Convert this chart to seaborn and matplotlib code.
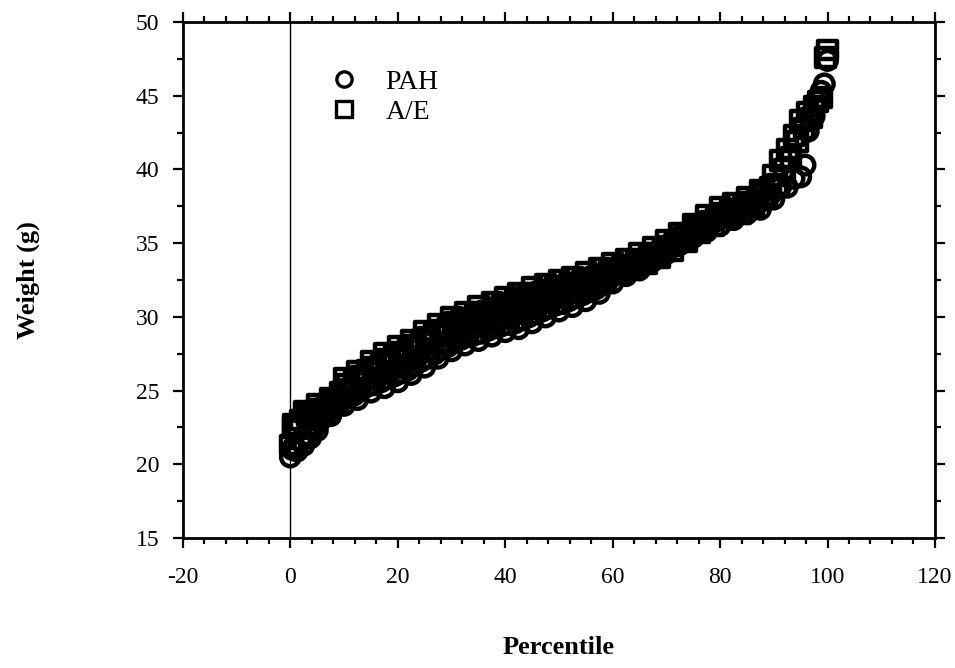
import matplotlib
matplotlib.use('Agg')
import matplotlib.pyplot as plt
import seaborn as sns
from matplotlib.ticker import MultipleLocator
from matplotlib.lines import Line2D

# percentile / weight (g)
ae_pct = [0.0, 0.6, 1.25, 2.5, 3.75, 5.0, 6.25, 7.5, 8.75, 10.0,
          11.25, 12.5, 13.75, 15.0, 16.25, 17.5, 18.75, 20.0, 21.25, 22.5,
          23.75, 25.0, 26.25, 27.5, 28.75, 30.0, 31.25, 32.5, 33.75, 35.0,
          36.25, 37.5, 38.75, 40.0, 41.25, 42.5, 43.75, 45.0, 46.25, 47.5,
          48.75, 50.0, 51.25, 52.5, 53.75, 55.0, 56.25, 57.5, 58.75, 60.0,
          61.25, 62.5, 63.75, 65.0, 66.25, 67.5, 68.75, 70.0, 71.25, 72.5,
          73.75, 75.0, 76.25, 77.5, 78.75, 80.0, 81.25, 82.5, 83.75, 85.0,
          86.25, 87.5, 88.75, 90.0, 90.6, 91.25, 92.0, 92.5, 93.2, 93.75,
          94.4, 95.0, 95.6, 96.25, 97.0, 97.5, 98.2, 99.0, 99.6, 100.0]
ae_wt = [21.3, 22.7, 22.4, 23.6, 23.1, 24.1, 23.4, 24.5, 24.1, 25.8,
         25.1, 26.3, 25.8, 27.0, 26.3, 27.5, 26.8, 28.0, 27.3, 28.4,
         27.9, 29.0, 28.3, 29.5, 28.8, 30.0, 29.2, 30.3, 29.6, 30.7,
         29.9, 31.0, 30.3, 31.3, 30.6, 31.6, 30.9, 32.0, 31.2, 32.2,
         31.5, 32.5, 31.7, 32.7, 31.9, 33.0, 32.2, 33.3, 32.6, 33.6,
         32.9, 33.9, 33.2, 34.3, 33.6, 34.7, 34.0, 35.2, 34.5, 35.7,
         35.1, 36.3, 35.7, 36.9, 36.2, 37.4, 36.7, 37.7, 37.0, 38.1,
         37.5, 38.6, 38.0, 39.6, 39.0, 40.6, 40.0, 41.4, 40.8, 42.3,
         41.9, 43.3, 42.8, 43.9, 43.5, 44.3, 44.6, 44.9, 47.6, 48.1]
# A/E readings lying inside the band
ae_pct_mid = [0.625, 1.875, 3.125, 4.375, 5.625, 6.875, 8.125, 9.375, 10.625, 11.875,
              13.125, 14.375, 15.625, 16.875, 18.125, 19.375, 20.625, 21.875, 23.125, 24.375,
              25.625, 26.875, 28.125, 29.375, 30.625, 31.875, 33.125, 34.375, 35.625, 36.875,
              38.125, 39.375, 40.625, 41.875, 43.125, 44.375, 45.625, 46.875, 48.125, 49.375,
              50.625, 51.875, 53.125, 54.375, 55.625, 56.875, 58.125, 59.375, 60.625, 61.875,
              63.125, 64.375, 65.625, 66.875, 68.125, 69.375, 70.625, 71.875, 73.125, 74.375,
              75.625, 76.875, 78.125, 79.375, 80.625, 81.875, 83.125, 84.375, 85.625, 86.875,
              88.125, 89.375]
ae_wt_mid = [22.5, 23.0, 23.3, 23.6, 23.7, 23.9, 24.3, 24.9, 25.4, 25.7,
             26.0, 26.4, 26.6, 26.9, 27.1, 27.4, 27.6, 27.8, 28.1, 28.4,
             28.6, 28.9, 29.1, 29.4, 29.6, 29.7, 29.9, 30.1, 30.3, 30.4,
             30.6, 30.8, 30.9, 31.1, 31.2, 31.4, 31.6, 31.7, 31.8, 32.0,
             32.1, 32.2, 32.3, 32.4, 32.6, 32.7, 32.9, 33.1, 33.2, 33.4,
             33.5, 33.7, 33.9, 34.1, 34.3, 34.6, 34.8, 35.1, 35.4, 35.7,
             36.0, 36.3, 36.5, 36.8, 37.0, 37.2, 37.3, 37.5, 37.8, 38.0,
             38.3, 38.8]

pah_pct = [0.0, 0.4, 1.25, 2.0, 2.5, 3.75, 4.4, 5.0, 6.25, 7.5,
           8.75, 10.0, 11.25, 12.5, 13.75, 15.0, 16.25, 17.5, 18.75, 20.0,
           21.25, 22.5, 23.75, 25.0, 26.25, 27.5, 28.75, 30.0, 31.25, 32.5,
           33.75, 35.0, 36.25, 37.5, 38.75, 40.0, 41.25, 42.5, 43.75, 45.0,
           46.25, 47.5, 48.75, 50.0, 51.25, 52.5, 53.75, 55.0, 56.25, 57.5,
           58.75, 60.0, 61.25, 62.5, 63.75, 65.0, 66.25, 67.5, 68.75, 70.0,
           71.25, 72.5, 73.75, 75.0, 76.25, 77.5, 78.75, 80.0, 81.25, 82.5,
           83.75, 85.0, 86.25, 87.5, 88.75, 90.0, 91.25, 92.5, 93.75, 95.0,
           95.8, 96.4, 97.5, 98.8, 99.4, 100.0]
pah_wt = [20.5, 21.0, 20.9, 21.6, 21.3, 21.8, 22.7, 22.3, 23.6, 23.3,
          24.4, 24.0, 25.0, 24.4, 25.6, 24.9, 25.9, 25.2, 26.3, 25.6,
          26.7, 26.1, 27.3, 26.6, 27.8, 27.2, 28.3, 27.7, 28.8, 28.1,
          29.2, 28.4, 29.4, 28.7, 29.8, 29.0, 30.0, 29.2, 30.3, 29.6,
          30.7, 30.0, 31.1, 30.4, 31.4, 30.7, 31.8, 31.1, 32.2, 31.6,
          32.8, 32.3, 33.3, 32.8, 33.7, 33.2, 34.1, 33.8, 34.6, 34.3,
          35.2, 34.9, 35.7, 35.4, 36.2, 35.8, 36.6, 36.2, 37.0, 36.6,
          37.4, 37.0, 37.7, 37.3, 38.1, 38.0, 38.8, 38.8, 39.4, 39.5,
          40.3, 42.6, 43.6, 45.3, 45.8, 47.4]
# PAH readings lying inside the band
pah_pct_mid = [0.625, 1.875, 3.125, 4.375, 5.625, 6.875, 8.125, 9.375, 10.625, 11.875,
               13.125, 14.375, 15.625, 16.875, 18.125, 19.375, 20.625, 21.875, 23.125, 24.375,
               25.625, 26.875, 28.125, 29.375, 30.625, 31.875, 33.125, 34.375, 35.625, 36.875,
               38.125, 39.375, 40.625, 41.875, 43.125, 44.375, 45.625, 46.875, 48.125, 49.375,
               50.625, 51.875, 53.125, 54.375, 55.625, 56.875, 58.125, 59.375, 60.625, 61.875,
               63.125, 64.375, 65.625, 66.875, 68.125, 69.375, 70.625, 71.875, 73.125, 74.375,
               75.625, 76.875, 78.125, 79.375, 80.625, 81.875, 83.125, 84.375, 85.625, 86.875,
               88.125, 89.375]
pah_wt_mid = [21.2, 21.6, 22.0, 22.5, 23.0, 23.5, 23.9, 24.3, 24.5, 24.7,
              25.0, 25.3, 25.4, 25.6, 25.8, 26.0, 26.2, 26.4, 26.7, 27.0,
              27.2, 27.5, 27.8, 28.0, 28.3, 28.5, 28.7, 28.8, 28.9, 29.1,
              29.3, 29.4, 29.5, 29.6, 29.8, 30.0, 30.2, 30.4, 30.6, 30.8,
              30.9, 31.1, 31.3, 31.5, 31.7, 31.9, 32.2, 32.6, 32.9, 33.2,
              33.4, 33.6, 33.8, 34.0, 34.3, 34.6, 34.9, 35.2, 35.5, 35.7,
              36.0, 36.2, 36.4, 36.6, 36.8, 37.0, 37.2, 37.4, 37.5, 37.7,
              37.9, 38.3]

sns.set_style('ticks')
plt.rcParams['font.family'] = ['Liberation Serif', 'DejaVu Serif']
plt.rcParams['axes.unicode_minus'] = False
for key in ['text.color', 'axes.labelcolor', 'xtick.color', 'ytick.color']:
    plt.rcParams[key] = 'black'

fig, ax = plt.subplots(figsize=(9.55, 6.68), dpi=100)
fig.subplots_adjust(left=0.1916, right=0.979, top=0.967, bottom=0.1946)

ax.axvline(0, color='black', lw=1, zorder=1)

sns.scatterplot(x=ae_pct + ae_pct_mid, y=ae_wt + ae_wt_mid, marker='s', s=180,
                facecolor='none', edgecolor='black', linewidth=3.2, ax=ax, zorder=3)
sns.scatterplot(x=pah_pct + pah_pct_mid, y=pah_wt + pah_wt_mid, marker='o', s=180,
                facecolor='none', edgecolor='black', linewidth=3.2, ax=ax, zorder=3)

ax.set_xlim(-20, 120)
ax.set_ylim(15, 50)
ax.xaxis.set_major_locator(MultipleLocator(20))
ax.xaxis.set_minor_locator(MultipleLocator(4))
ax.yaxis.set_major_locator(MultipleLocator(5))
ax.yaxis.set_minor_locator(MultipleLocator(2.5))
ax.tick_params(which='both', direction='out', top=True, right=True,
               width=1.6, color='black')
ax.tick_params(which='major', length=7, labelsize=17)
ax.tick_params(axis='x', which='major', pad=14)
ax.tick_params(axis='y', which='major', pad=10)
ax.tick_params(which='minor', length=4)
for sp in ax.spines.values():
    sp.set_linewidth(2)
    sp.set_color('black')

ax.set_xlabel('Percentile', fontsize=19, fontweight='bold')
ax.set_ylabel('Weight (g)', fontsize=19, fontweight='bold')
ax.xaxis.set_label_coords(0.5, -0.19)
ax.yaxis.set_label_coords(-0.19, 0.5)

handles = [Line2D([], [], marker='o', ls='none', mfc='none', mec='black', mew=2.4, ms=11),
           Line2D([], [], marker='s', ls='none', mfc='none', mec='black', mew=2.4, ms=11)]
ax.legend(handles, ['PAH', 'A/E'], loc='upper left', bbox_to_anchor=(0.177, 0.935),
          frameon=False, fontsize=20, handlelength=1.0, handletextpad=1.0,
          labelspacing=0.15, borderpad=0)

fig.savefig('out.png', dpi=100)
